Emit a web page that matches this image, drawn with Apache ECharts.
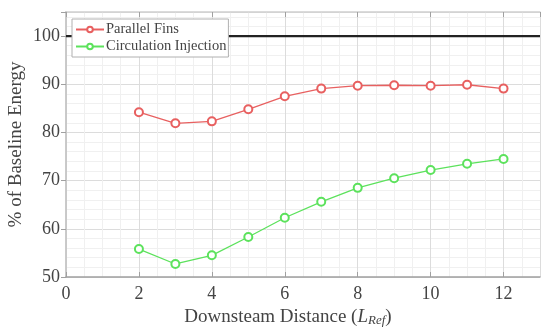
<!DOCTYPE html>
<html>
<head>
<meta charset="utf-8">
<script src="https://cdn.jsdelivr.net/npm/echarts@6/dist/echarts.min.js"></script>
<style>html,body{margin:0;padding:0;background:#fff}#c{width:550px;height:334px}</style>
</head>
<body>
<div id="c"></div>
<script>
var distances = [2, 3, 4, 5, 6, 7, 8, 9, 10, 11, 12];
var parallelFins = [84.2, 81.9, 82.3, 84.8, 87.5, 89.1, 89.7, 89.8, 89.7, 89.9, 89.1];
var circulationInjection = [55.8, 52.7, 54.5, 58.3, 62.3, 65.6, 68.5, 70.5, 72.2, 73.5, 74.5];
var baselineX = [0, 13];
var baselineY = [100, 100];

function pairs(xs, ys) { return xs.map(function (x, i) { return [x, ys[i]]; }); }

var FONT = 'Liberation Serif';
var chart = echarts.init(document.getElementById('c'), null, { renderer: 'canvas' });
var gridLine = { show: true, lineStyle: { color: '#dcdcdc', width: 1 } };
var minorLine = { show: true, lineStyle: { color: '#f0f0f0', width: 1 } };
chart.setOption({
  animation: false,
  backgroundColor: '#fff',
  textStyle: { fontFamily: FONT },
  grid: { left: 66, right: 10, top: 12, bottom: 57, containLabel: false, outerBoundsMode: 'none' },
  legend: {
    left: 72, top: 19,
    orient: 'vertical',
    data: ['Parallel Fins', 'Circulation Injection'],
    backgroundColor: '#fff',
    borderColor: '#b0b0b0', borderWidth: 1,
    padding: [2, 2, 2, 3],
    itemGap: 0,
    itemWidth: 28, itemHeight: 7,
    textStyle: { fontFamily: FONT, fontSize: 14.5, color: '#444', padding: [0, 0, 0, -3], lineHeight: 17 },
    itemStyle: { borderWidth: 1 }
  },
  xAxis: [{
    type: 'value', min: 0, max: 13, interval: 2,
    name: 'Downsteam Distance ({it|L}{sub|Ref})',
    nameLocation: 'middle', nameGap: 29,
    nameTextStyle: {
      fontFamily: FONT, fontSize: 19, color: '#444', padding: [0, 30, 0, 0],
      rich: {
        it: { fontFamily: FONT, fontSize: 19, fontStyle: 'italic', color: '#444' },
        sub: { fontFamily: FONT, fontSize: 13, fontStyle: 'italic', color: '#444', verticalAlign: 'bottom', padding: [7, 0, 0, 0] }
      }
    },
    axisLine: { show: true, lineStyle: { color: '#a0a0a0', width: 1.5 } },
    axisTick: { show: true, inside: true, length: 5, lineStyle: { color: '#a0a0a0' } },
    axisLabel: { fontFamily: FONT, fontSize: 18, color: '#444', margin: 8, showMaxLabel: false },
    splitLine: gridLine,
    minorTick: { show: false, splitNumber: 4 },
    minorSplitLine: minorLine
  }, {
    type: 'value', min: 0, max: 13, interval: 2, position: 'top',
    axisLine: { show: true, lineStyle: { color: '#d0d0d0', width: 1.5 } },
    axisTick: { show: true, inside: true, length: 5, lineStyle: { color: '#a0a0a0' } },
    axisLabel: { show: false },
    splitLine: { show: false }
  }],
  yAxis: [{
    type: 'value', min: 50, max: 105, interval: 10,
    name: '% of Baseline Energy',
    nameLocation: 'middle', nameGap: 40, nameMoveOverlap: false,
    nameTextStyle: { fontFamily: FONT, fontSize: 19, color: '#444' },
    axisLine: { show: true, lineStyle: { color: '#a0a0a0', width: 1.5 } },
    axisTick: { show: false },
    axisLabel: { fontFamily: FONT, fontSize: 18, color: '#444', margin: 6, showMaxLabel: false },
    splitLine: gridLine,
    minorTick: { show: false, splitNumber: 5 },
    minorSplitLine: minorLine
  }, {
    type: 'value', min: 50, max: 105, interval: 10, position: 'right',
    axisLine: { show: true, lineStyle: { color: '#d0d0d0', width: 1.5 } },
    axisTick: { show: true, inside: true, length: 5, lineStyle: { color: '#a0a0a0' } },
    axisLabel: { show: false },
    splitLine: { show: false }
  }],
  series: [{
    name: 'Baseline', type: 'line', data: pairs(baselineX, baselineY),
    symbol: 'none', lineStyle: { color: '#222', width: 2.2 }, silent: true, z: 3
  }, {
    name: 'Parallel Fins', type: 'line', data: pairs(distances, parallelFins),
    symbol: 'emptyCircle', symbolSize: 8,
    lineStyle: { color: '#e86060', width: 1.3 },
    itemStyle: { color: '#e86060', borderColor: '#e86060', borderWidth: 1.3 },
    z: 4
  }, {
    name: 'Circulation Injection', type: 'line', data: pairs(distances, circulationInjection),
    symbol: 'emptyCircle', symbolSize: 8,
    lineStyle: { color: '#5ce25c', width: 1.3 },
    itemStyle: { color: '#5ce25c', borderColor: '#5ce25c', borderWidth: 1.3 },
    z: 4
  }]
});
</script>
</body>
</html>
